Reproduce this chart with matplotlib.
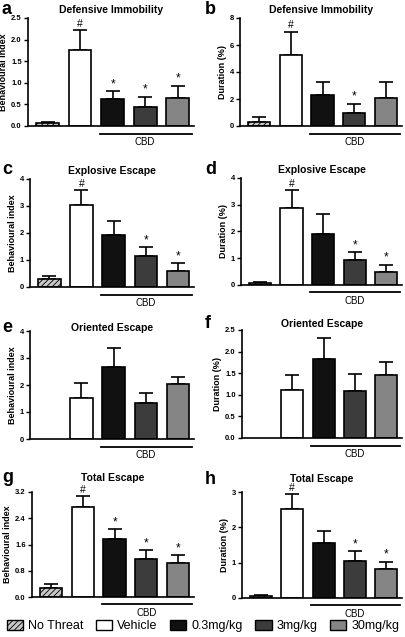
import numpy as np
import matplotlib
matplotlib.use('Agg')
import matplotlib.pyplot as plt
from matplotlib.patches import Patch
from matplotlib.transforms import blended_transform_factory

plt.rcParams['font.family'] = ['Liberation Sans', 'DejaVu Sans']
plt.rcParams['hatch.linewidth'] = 0.6

# Grupos
groups = ['No Threat', 'Vehicle', '0.3mg/kg', '3mg/kg', '30mg/kg']
colors = ['#c8c8c8', '#ffffff', '#111111', '#3c3c3c', '#858585']
hatches = ['//////', None, None, None, None]

# Painéis: título, eixo y, limites, ticks, médias, EPM, marcas
titles = ['Defensive Immobility', 'Defensive Immobility',
          'Explosive Escape', 'Explosive Escape',
          'Oriented Escape', 'Oriented Escape',
          'Total Escape', 'Total Escape']
letters = ['a', 'b', 'c', 'd', 'e', 'f', 'g', 'h']
ylabels = ['Behavioural index', 'Duration (%)'] * 4

yticks_a = [0.0, 0.5, 1.0, 1.5, 2.0, 2.5]
yticks_b = [0, 2, 4, 6, 8]
yticks_c = [0, 1, 2, 3, 4]
yticks_d = [0, 1, 2, 3, 4]
yticks_e = [0, 1, 2, 3, 4]
yticks_f = [0.0, 0.5, 1.0, 1.5, 2.0, 2.5]
yticks_g = [0.0, 0.8, 1.6, 2.4, 3.2]
yticks_h = [0, 1, 2, 3]

means_a = [0.06, 1.75, 0.62, 0.45, 0.64]
sem_a = [0.04, 0.48, 0.18, 0.23, 0.29]
means_b = [0.32, 5.27, 2.30, 0.94, 2.10]
sem_b = [0.32, 1.73, 0.99, 0.69, 1.14]
means_c = [0.30, 3.02, 1.92, 1.15, 0.59]
sem_c = [0.10, 0.58, 0.54, 0.33, 0.29]
means_d = [0.06, 2.86, 1.92, 0.95, 0.50]
sem_d = [0.04, 0.69, 0.73, 0.28, 0.25]
means_e = [0.0, 1.51, 2.68, 1.33, 2.04]
sem_e = [0.0, 0.58, 0.70, 0.37, 0.27]
means_f = [0.0, 1.10, 1.83, 1.09, 1.46]
sem_f = [0.0, 0.36, 0.49, 0.39, 0.31]
means_g = [0.28, 2.74, 1.77, 1.16, 1.05]
sem_g = [0.11, 0.35, 0.30, 0.27, 0.23]
means_h = [0.05, 2.52, 1.56, 1.06, 0.82]
sem_h = [0.03, 0.41, 0.35, 0.26, 0.20]

marks_a = ['', '#', '*', '*', '*']
marks_b = ['', '#', '', '*', '']
marks_c = ['', '#', '', '*', '*']
marks_d = ['', '#', '', '*', '*']
marks_e = ['', '', '', '', '']
marks_f = ['', '', '', '', '']
marks_g = ['', '#', '*', '*', '*']
marks_h = ['', '#', '', '*', '*']

panels = [
    (yticks_a, means_a, sem_a, marks_a),
    (yticks_b, means_b, sem_b, marks_b),
    (yticks_c, means_c, sem_c, marks_c),
    (yticks_d, means_d, sem_d, marks_d),
    (yticks_e, means_e, sem_e, marks_e),
    (yticks_f, means_f, sem_f, marks_f),
    (yticks_g, means_g, sem_g, marks_g),
    (yticks_h, means_h, sem_h, marks_h),
]

# posição dos eixos em pixels (esq, topo, dir, base)
W, H = 406, 637
boxes = [
    (28, 18, 194, 126), (240, 18, 402, 126),
    (30, 179, 194, 287), (241, 178, 402, 285),
    (30, 331, 194, 439), (242, 330, 402, 438),
    (32, 492, 194, 597), (242, 492, 402, 598),
]
# centro vertical dos títulos e letras (pixels)
title_y = [10, 10, 171, 170, 328, 324, 478, 479]
letter_y = [10, 10, 170, 170, 327, 324, 477, 480]

fig = plt.figure(figsize=(W / 100, H / 100), dpi=100)
x = np.arange(len(groups))

for i, (yt, m, s, mk) in enumerate(panels):
    l, t, r, b = boxes[i]
    ax = fig.add_axes([l / W, 1 - b / H, (r - l) / W, (b - t) / H])
    for j in range(len(groups)):
        if m[j] <= 0:
            continue
        ax.bar(x[j], m[j], width=0.7, color=colors[j], edgecolor='black',
               linewidth=1.2, hatch=hatches[j], zorder=2)
        ax.errorbar(x[j], m[j], yerr=[[0], [s[j]]], color='black',
                    capsize=5, capthick=1.2, elinewidth=1.2, zorder=1)
        if mk[j]:
            ytop = m[j] + s[j] + yt[-1] * 0.01
            ax.text(x[j], ytop, mk[j], ha='center', va='bottom',
                    fontsize=7.5 if mk[j] == '#' else 8.5)
    ax.set_xlim(-0.6, 4.5)
    ax.set_ylim(yt[0], yt[-1])
    ax.set_yticks(yt)
    if isinstance(yt[1], float):
        ax.set_yticklabels([f'{v:.1f}' for v in yt])
    ax.set_xticks([])
    for sp in ['top', 'right']:
        ax.spines[sp].set_visible(False)
    for sp in ['left', 'bottom']:
        ax.spines[sp].set_linewidth(1.2)
    ax.tick_params(axis='y', labelsize=5.5, width=1, length=3, pad=1.5)
    for lab in ax.get_yticklabels():
        lab.set_fontweight('bold')
    ax.set_ylabel(ylabels[i], fontsize=6.5, fontweight='bold', labelpad=2)

    # título em posição fixa
    fig.text((l + r) / 2 / W, 1 - title_y[i] / H, titles[i], fontsize=7.5,
             fontweight='bold', ha='center', va='center')

    # linha do CBD
    trans = blended_transform_factory(ax.transData, ax.transAxes)
    ax.plot([1.6, 4.45], [-0.07, -0.07], color='black', lw=1.3,
            transform=trans, clip_on=False)
    ax.text(3.0, -0.1, 'CBD', ha='center', va='top', fontsize=7,
            transform=trans)

    lx = 2 if i % 2 == 0 else 205
    fig.text(lx / W, 1 - letter_y[i] / H, letters[i], fontsize=13,
             fontweight='bold', ha='left', va='center')

handles = [Patch(facecolor=colors[j], edgecolor='black', hatch=hatches[j],
                 linewidth=1.0) for j in range(len(groups))]
fig.legend(handles, groups, loc='center', bbox_to_anchor=(0.5, 1 - 626 / H),
           ncol=5, frameon=False, fontsize=9, handlelength=1.3,
           handleheight=0.9, handletextpad=0.4, columnspacing=1.0)

fig.savefig('out.png', dpi=100)
